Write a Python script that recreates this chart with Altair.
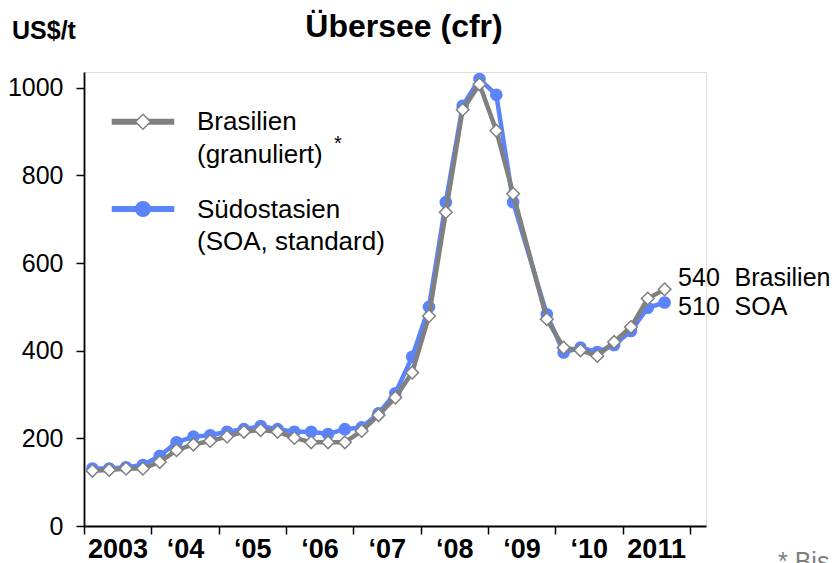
import altair as alt
import pandas as pd

FONT = "Liberation Sans"
GREY = "#808080"
BLUE = "#5B84FA"

# Quarterly prices (US$/t); 2009 Q3 not reported
quarters = [
    "2003Q1", "2003Q2", "2003Q3", "2003Q4",
    "2004Q1", "2004Q2", "2004Q3", "2004Q4",
    "2005Q1", "2005Q2", "2005Q3", "2005Q4",
    "2006Q1", "2006Q2", "2006Q3", "2006Q4",
    "2007Q1", "2007Q2", "2007Q3", "2007Q4",
    "2008Q1", "2008Q2", "2008Q3", "2008Q4",
    "2009Q1", "2009Q2", "2009Q4",
    "2010Q1", "2010Q2", "2010Q3", "2010Q4",
    "2011Q1", "2011Q2", "2011Q3",
]
brasilien = [126, 128, 131, 131, 146, 173, 186, 194, 204, 215, 219, 215,
             201, 191, 191, 191, 217, 253, 293, 350, 479, 716, 950, 1008,
             902, 758, 472, 407, 401, 388, 420, 454, 519, 540]
soa = [131, 131, 134, 139, 160, 191, 204, 207, 215, 221, 228, 221,
       215, 215, 210, 221, 225, 257, 303, 386, 500, 739, 959, 1020,
       984, 739, 483, 396, 407, 397, 413, 445, 498, 510]

year_ticks = list(range(2003, 2013))
year_labels = ["2003", "\u201804", "\u201805", "\u201806", "\u201807",
               "\u201808", "\u201809", "\u201810", "2011", ""]
y_ticks = [0, 200, 400, 600, 800, 1000]

legend_names = ["Brasilien", "(granuliert)", "S\u00fcdostasien", "(SOA, standard)"]
end_names = ["Brasilien", "SOA"]

df = pd.DataFrame({
    "quarter": quarters,
    "t": [int(q[:4]) + (int(q[5]) - 0.5) / 4 for q in quarters],
    "Brasilien": brasilien,
    "SOA": soa,
})
last = df.tail(1)

W, H = 622, 454
xscale = alt.Scale(domain=[2003, 2012.24], nice=False, zero=False)
yscale = alt.Scale(domain=[0, 1036], nice=False)

label_expr = "[" + ",".join("'" + s + "'" for s in year_labels) + "][datum.value - 2003]"
xaxis = alt.Axis(values=year_ticks, labelExpr=label_expr, labelOffset=33.6,
                 labelFlush=False, labelOverlap=False, grid=False, title=None,
                 tickSize=8, tickColor="black", tickWidth=1.5,
                 domainColor="black", domainWidth=1.8,
                 labelFont=FONT, labelFontSize=27, labelFontWeight="bold",
                 labelColor="black", labelPadding=2)
yaxis = alt.Axis(values=y_ticks, format="d", grid=False, title=None,
                 tickSize=8, tickColor="black", tickWidth=1.5,
                 domainColor="black", domainWidth=1.8,
                 labelFont=FONT, labelFontSize=25, labelColor="black",
                 labelPadding=13)


def X():
    return alt.X("t:Q", scale=xscale, axis=xaxis)


def Y(field):
    return alt.Y(field + ":Q", scale=yscale, axis=yaxis)


base = alt.Chart(df)
blue_line = base.mark_line(color=BLUE, strokeWidth=4.5).encode(x=X(), y=Y("SOA"))
blue_pts = base.mark_point(shape="circle", filled=True, color=BLUE, size=160,
                           opacity=1).encode(x=X(), y=Y("SOA"))
grey_line = base.mark_line(color=GREY, strokeWidth=4.5).encode(x=X(), y=Y("Brasilien"))
grey_pts = base.mark_point(shape="diamond", filled=True, fill="white", stroke=GREY,
                           strokeWidth=1.5, size=160, opacity=1).encode(
    x=X(), y=Y("Brasilien"))

# end labels
lastc = alt.Chart(last)
end_b_val = lastc.mark_text(font=FONT, fontSize=25, align="left", baseline="alphabetic",
                            dx=13.5, dy=-3, color="black").encode(
    x=X(), y=Y("Brasilien"), text=alt.Text("Brasilien:Q", format=".0f"))
end_b_name = lastc.mark_text(font=FONT, fontSize=25, align="left", baseline="alphabetic",
                             dx=70, dy=-3, color="black").encode(
    x=X(), y=Y("Brasilien"), text=alt.value(end_names[0]))
end_s_val = lastc.mark_text(font=FONT, fontSize=25, align="left", baseline="alphabetic",
                            dx=13.5, dy=12.5, color="black").encode(
    x=X(), y=Y("SOA"), text=alt.Text("SOA:Q", format=".0f"))
end_s_name = lastc.mark_text(font=FONT, fontSize=25, align="left", baseline="alphabetic",
                             dx=70, dy=12.5, color="black").encode(
    x=X(), y=Y("SOA"), text=alt.value(end_names[1]))

# manual legend, title and notes
one = alt.Chart(pd.DataFrame({"k": [0]}))
leg_grey = one.mark_rule(color=GREY, strokeWidth=6).encode(
    x=alt.value(27.7), x2=alt.value(90.3), y=alt.value(49.7))
leg_grey_sym = one.mark_point(shape="diamond", filled=True, fill="white", stroke=GREY,
                              strokeWidth=1.5, size=225, opacity=1).encode(
    x=alt.value(59), y=alt.value(49.7))
leg_blue = one.mark_rule(color=BLUE, strokeWidth=6).encode(
    x=alt.value(27.7), x2=alt.value(90.3), y=alt.value(137))
leg_blue_sym = one.mark_point(shape="circle", filled=True, color=BLUE, size=256,
                              opacity=1).encode(x=alt.value(59), y=alt.value(137))


def txt(s, x, y, size=26, weight="normal", color="black", align="left"):
    return one.mark_text(font=FONT, fontSize=size, fontWeight=weight, color=color,
                         align=align, baseline="alphabetic").encode(
        x=alt.value(x), y=alt.value(y), text=alt.value(s))


texts = [
    txt(legend_names[0], 113, 58),
    txt(legend_names[1], 113, 91),
    txt("*", 250, 78, size=20),
    txt(legend_names[2], 113, 146),
    txt(legend_names[3], 113, 178),
    txt("\u00dcbersee (cfr)", 320, -35, size=32, weight="bold", align="center"),
    txt("US$/t", -72, -33, size=25, weight="bold"),
    txt("*  Bis", 694, 498, size=25, color="#7F7F7F"),
]

chart = alt.layer(
    blue_line, blue_pts, grey_line, grey_pts,
    end_b_val, end_b_name, end_s_val, end_s_name,
    leg_grey, leg_grey_sym, leg_blue, leg_blue_sym,
    *texts,
).properties(
    width=W, height=H,
    autosize=alt.AutoSizeParams(type="none"),
    padding={"left": 76, "top": 64, "right": 124, "bottom": 45},
).configure_view(stroke=None).configure(background="white")

chart.save("out.html", embed_options={"renderer": "svg", "actions": False})
